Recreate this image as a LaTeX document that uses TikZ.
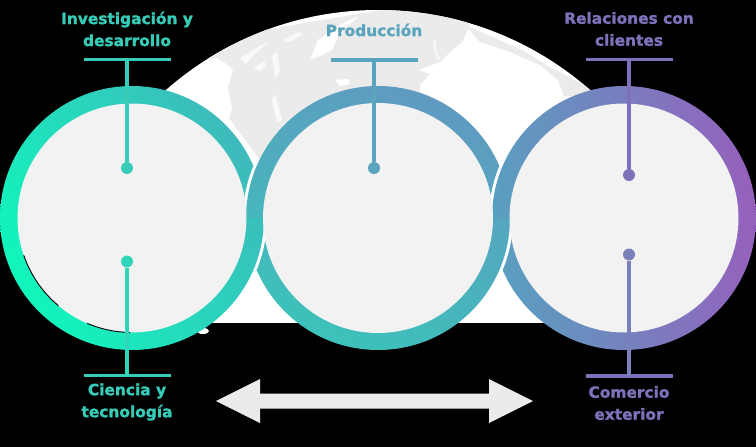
\documentclass[tikz,border=0pt]{standalone}
\usepackage{fontspec}
\setmainfont{DejaVu Sans}[BoldFeatures={FakeBold=1.6}]
\usepackage{xcolor}
\usetikzlibrary{positioning, calc}
\definecolor{mint}{HTML}{36CCB8}
\definecolor{mintlow}{HTML}{2FD6B9}
\definecolor{steel}{HTML}{5BA4BD}
\definecolor{violet}{HTML}{7F70BA}
\definecolor{violetlow}{HTML}{7A80BA}
\definecolor{ocean}{HTML}{EBEBEB}
\definecolor{disc}{HTML}{F2F2F2}
\tikzstyle{ringa} = [bottom color={rgb,255:red,16;green,246;blue,188}, top color={rgb,255:red,62;green,186;blue,188}, shading angle=-60]
\tikzstyle{ringb} = [bottom color={rgb,255:red,60;green,194;blue,186}, top color={rgb,255:red,96;green,154;blue,193}, shading angle=-25]
\tikzstyle{ringc} = [bottom color={rgb,255:red,88;green,160;blue,192}, top color={rgb,255:red,150;green,96;blue,189}, shading angle=-85]
\tikzstyle{inner} = [fill=disc]
\tikzstyle{gap} = [fill=white]
\tikzstyle{land} = [fill=white, opacity=0.75]
\tikzstyle{bar} = [line width=3.1pt]
\tikzstyle{stem} = [line width=3.2pt]
\tikzstyle{dot} = [circle, minimum size=12pt, inner sep=0pt]
\tikzstyle{label} = [align=center, font=\fontsize{15.4}{22}\selectfont\bfseries]
\begin{document}
\begin{tikzpicture}[x=1pt, y=-1pt]
    \fill[black] (0,0) rectangle (756,447);
    \useasboundingbox (0,0) rectangle (756,447);

    \coordinate (ca) at (132,218);
    \coordinate (cb) at (378,218);
    \coordinate (cc) at (624,218);

    % globe
    \begin{scope}
        \clip (-10,-10) rectangle (766,322);
        \clip (378,331) circle[radius=321];
        \fill[white] (0,0) rectangle (756,447);
        \fill[ocean] (205,40) -- (203,60) -- (216,58) -- (224,62) -- (233,70) -- (228,88) -- (232,108) -- (229,118) -- (240,133) -- (260,160)
            -- (420,100) -- (420,85) -- (430,74) -- (418,70) -- (440,62) -- (450,52) -- (462,42) -- (470,25) -- (440,0) -- cycle;
        \fill[ocean] (465,25) -- (490,36) -- (522,50) -- (548,66) -- (590,88) -- (590,96) -- (564,96)
            -- (558,80) -- (540,65) -- (510,52) -- (480,42) -- cycle;
        \fill[white] (310,60) -- (318,40) -- (345,22) -- (358,17) -- (340,32) -- (332,50) -- (320,56) -- cycle;
        \fill[white] (335,80) -- (348,79) -- (350,84) -- (340,86) -- cycle;
        \fill[land] (240,58) -- (258,47) -- (268,42) -- (256,53) -- (246,64) -- cycle;
        \fill[land] (254,68) -- (264,61) -- (266,65) -- (260,72) -- cycle;
        \fill[land] (272,56) -- (277,52) -- (280,70) -- (275,80) -- (274,68) -- cycle;
        \fill[land] (272,100) -- (275,94) -- (282,120) -- (277,122) -- cycle;
        \fill[land] (283,40) -- (298,32) -- (303,34) -- (290,42) -- cycle;
        \fill[land] (433,42) -- (436,40) -- (436,52) -- (441,60) -- (436,58) -- cycle;
    \end{scope}
    \fill[white] (203,331) ellipse[x radius=6, y radius=3];

    \begin{scope}
        \clip (0,0) rectangle (756,218);
        \shade[ringa] (ca) circle[radius=132];
        \begin{scope}
            \clip (ca) circle[radius=132];
            \fill[gap] (cb) circle[radius=135];
        \end{scope}
        \shade[ringb] (cb) circle[radius=132];
        \begin{scope}
            \clip (cb) circle[radius=132];
            \fill[gap] (cc) circle[radius=135];
        \end{scope}
        \shade[ringc] (cc) circle[radius=132];
    \end{scope}
    \begin{scope}
        \clip (0,218) rectangle (756,447);
        \shade[ringc] (cc) circle[radius=132];
        \begin{scope}
            \clip (cc) circle[radius=132];
            \fill[gap] (cb) circle[radius=135];
        \end{scope}
        \shade[ringb] (cb) circle[radius=132];
        \begin{scope}
            \clip (cb) circle[radius=132];
            \fill[gap] (ca) circle[radius=135];
        \end{scope}
        \shade[ringa] (ca) circle[radius=132];
    \end{scope}

    \fill[inner] (ca) circle[radius=114.5];
    \fill[inner] (cb) circle[radius=115];
    \fill[inner] (cc) circle[radius=114.5];
    \draw[black, line width=0.9pt] (ca) ++(130:114.5) arc[start angle=130, end angle=161, radius=114.5];
    \draw[black, line width=0.9pt] (ca) ++(91:114.5) arc[start angle=91, end angle=113, radius=114.5];

    % labels
    \node[label, text=mint] (investigacion) at (127,29) {Investigación y\\desarrollo};
    \node[label, text=steel] (produccion) at (374,30) {Producción};
    \node[label, text=violet] (relaciones) at (629,29) {Relaciones con\\clientes};
    \node[label, text=mint] (ciencia) at (127,402) {Ciencia y\\tecnología};
    \node[label, text=violet] (comercio) at (629,403) {Comercio\\exterior};

    % stems
    \coordinate (invl) at (84,59.5);
    \coordinate (invm) at (127,59.5);
    \coordinate (invr) at (171,59.5);
    \node[dot, fill=mint] (invdot) at (127,168) {};
    \draw[bar, mint] (invl) -- (invr);
    \draw[stem, mint] (invm) -- (invdot);

    \coordinate (prol) at (331,60);
    \coordinate (prom) at (374,60);
    \coordinate (pror) at (418,60);
    \node[dot, fill=steel] (prodot) at (374,168) {};
    \draw[bar, steel] (prol) -- (pror);
    \draw[stem, steel] (prom) -- (prodot);

    \coordinate (rell) at (586,59.5);
    \coordinate (relm) at (629,59.5);
    \coordinate (relr) at (673,59.5);
    \node[dot, fill=violet] (reldot) at (629,175) {};
    \draw[bar, violet] (rell) -- (relr);
    \draw[stem, violet] (relm) -- (reldot);

    \coordinate (ciel) at (84,375.5);
    \coordinate (ciem) at (127,375.5);
    \coordinate (cier) at (171,375.5);
    \node[dot, fill=mintlow] (ciedot) at (127,261.5) {};
    \draw[bar, mint] (ciel) -- (cier);
    \draw[stem, mintlow] (ciem) -- (ciedot);

    \coordinate (coml) at (586,376);
    \coordinate (comm) at (629,376);
    \coordinate (comr) at (673,376);
    \node[dot, fill=violetlow] (comdot) at (629,254.5) {};
    \draw[bar, violet] (coml) -- (comr);
    \draw[stem, violetlow] (comm) -- (comdot);

    % double arrow
    \fill[ocean] (216,401) -- (260,379) -- (260,393.5) -- (489,393.5) -- (489,379) -- (533,401)
        -- (489,423) -- (489,408.5) -- (260,408.5) -- (260,423) -- cycle;
\end{tikzpicture}
\end{document}
